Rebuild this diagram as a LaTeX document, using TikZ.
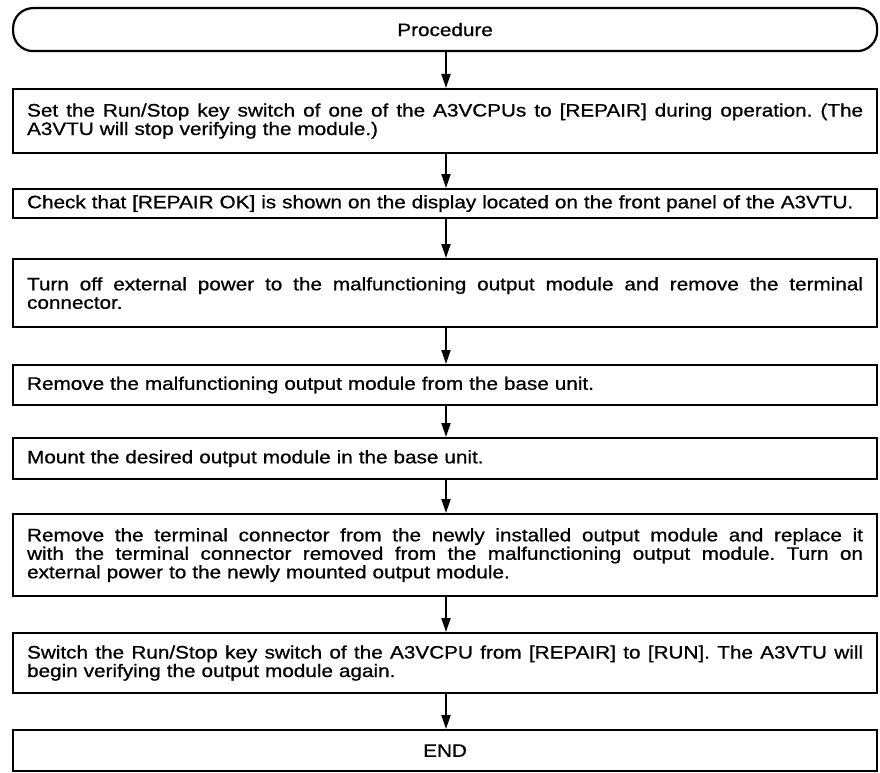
\documentclass[tikz,border=0pt]{standalone}
\usepackage{fontspec}
\setmainfont{Liberation Sans}[FakeStretch=1.15,FakeBold=0.8]
\usetikzlibrary{arrows.meta}
\frenchspacing
\begin{document}
\begin{tikzpicture}[x=1pt,y=-1pt,
  stepbox/.style={draw,line width=2.2pt,anchor=north west,text width=836pt,
    inner xsep=14pt,inner ysep=0pt,align=left,
    font=\fontsize{18}{18.5}\selectfont},
  centerbox/.style={draw,line width=2.2pt,anchor=north west,minimum width=864pt,
    inner sep=0pt,font=\fontsize{18}{18.5}\selectfont},
  arr/.style={line width=2pt,-{Triangle[length=14pt,width=9pt]}}]
\useasboundingbox (0,0) rectangle (880,773);
\newcommand{\jl}[1]{\leavevmode{\spaceskip=0.278em plus 1fil\relax\hbox to 836pt{#1}}}
\coordinate (ax) at (446,0);
\node[centerbox,rounded corners=20pt,minimum height=43pt] (p) at (12,7) {Procedure};
\node[stepbox,minimum height=64pt] (b1) at (12,88) {\jl{Set the Run/Stop key switch of one of the A3VCPUs to [REPAIR] during operation. (The}\\A3VTU will stop verifying the module.)};
\node[stepbox,minimum height=29pt] (b2) at (12,188) {Check that [REPAIR OK] is shown on the display located on the front panel of the A3VTU.};
\node[stepbox,minimum height=68pt] (b3) at (12,258) {\jl{Turn off external power to the malfunctioning output module and remove the terminal}\\connector.};
\node[stepbox,minimum height=40pt] (b4) at (12,364) {Remove the malfunctioning output module from the base unit.};
\node[stepbox,minimum height=41pt] (b5) at (12,437) {Mount the desired output module in the base unit.};
\node[stepbox,minimum height=82pt] (b6) at (12,513) {\jl{Remove the terminal connector from the newly installed output module and replace it}\\\jl{with the terminal connector removed from the malfunctioning output module. Turn on}\\external power to the newly mounted output module.};
\node[stepbox,minimum height=60pt] (b7) at (12,632) {\jl{Switch the Run/Stop key switch of the A3VCPU from [REPAIR] to [RUN]. The A3VTU will}\\begin verifying the output module again.};
\node[centerbox,minimum height=41pt] (e) at (12,729) {END};
\draw[arr] (p.south -| ax) -- (b1.north -| ax);
\draw[arr] (b1.south -| ax) -- (b2.north -| ax);
\draw[arr] (b2.south -| ax) -- (b3.north -| ax);
\draw[arr] (b3.south -| ax) -- (b4.north -| ax);
\draw[arr] (b4.south -| ax) -- (b5.north -| ax);
\draw[arr] (b5.south -| ax) -- (b6.north -| ax);
\draw[arr] (b6.south -| ax) -- (b7.north -| ax);
\draw[arr] (b7.south -| ax) -- (e.north -| ax);
\end{tikzpicture}
\end{document}
